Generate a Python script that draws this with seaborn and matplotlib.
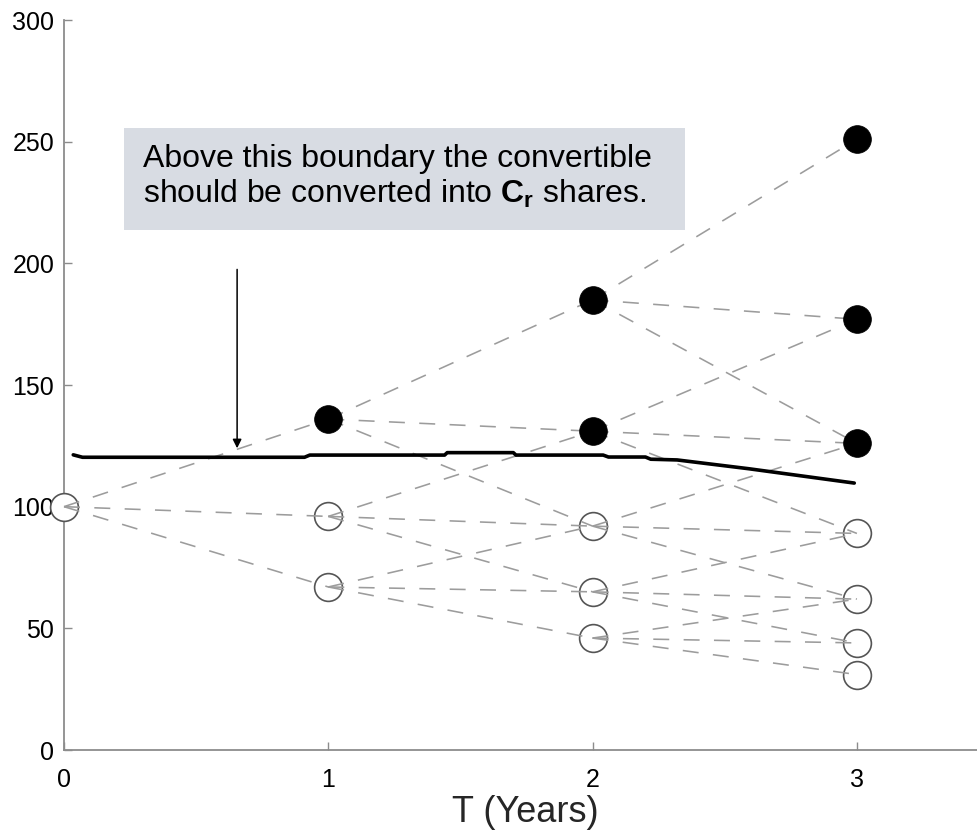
import matplotlib
matplotlib.use("Agg")
import matplotlib.pyplot as plt
import seaborn as sns
import pandas as pd
from matplotlib.patches import Rectangle

# ---- data ----
times = [0, 1, 2, 3]
nodes_t0 = [100]
nodes_t1 = [136, 96, 67]
nodes_t2 = [185, 131, 92, 65, 46]
nodes_t3 = [251, 177, 126, 89, 62, 44, 31]
# nodes above the conversion boundary (filled)
convert_t0 = [False]
convert_t1 = [True, False, False]
convert_t2 = [True, True, False, False, False]
convert_t3 = [True, True, True, False, False, False, False]

boundary_t = [0.035, 0.07, 0.91, 0.93, 1.44, 1.45, 1.70, 1.71, 2.04, 2.06, 2.20, 2.22, 2.32, 2.59, 2.99]
boundary_v = [121.3, 120.3, 120.3, 121.2, 121.2, 122.2, 122.2, 121.2, 121.2, 120.4, 120.4, 119.5, 119.2, 115.6, 109.7]

xticks = [0, 1, 2, 3]
yticks = [0, 50, 100, 150, 200, 250, 300]
xlabel = "T (Years)"
note_line1 = "Above this boundary the convertible"
note_line2 = "should be converted into $\\mathbf{C_r}$ shares."

levels = [nodes_t0, nodes_t1, nodes_t2, nodes_t3]
flags = [convert_t0, convert_t1, convert_t2, convert_t3]

sns.set_style("ticks")
plt.rcParams['font.family'] = ['Liberation Sans', 'DejaVu Sans']
plt.rcParams['mathtext.fontset'] = 'custom'
plt.rcParams['mathtext.rm'] = 'Liberation Sans'
plt.rcParams['mathtext.bf'] = 'Liberation Sans:bold'

fig = plt.figure(figsize=(9.77, 8.3), dpi=100)
ax = fig.add_axes([64/977, 80/830, 1 - 64/977, 730/830])

# node table
rows = []
for t, vals, fl in zip(times, levels, flags):
    for v, f in zip(vals, fl):
        rows.append({"t": t, "v": v, "conv": f})
df = pd.DataFrame(rows)

# hollow nodes
sns.scatterplot(data=df[~df.conv], x="t", y="v", s=400, facecolor="white",
                edgecolor="#555555", linewidth=1.2, ax=ax, zorder=3, clip_on=False)

# tree edges (recombining trinomial: node i -> i, i+1, i+2)
for k in range(len(levels) - 1):
    for i, v in enumerate(levels[k]):
        for j in range(3):
            ax.plot([times[k], times[k + 1]], [v, levels[k + 1][i + j]],
                    color="#9c9c9c", lw=1.15, dashes=(10, 9), zorder=4, clip_on=False)

# filled nodes
sns.scatterplot(data=df[df.conv], x="t", y="v", s=400, color="black",
                edgecolor="black", linewidth=0.5, ax=ax, zorder=5, clip_on=False)

# boundary
bdf = pd.DataFrame({"t": boundary_t, "v": boundary_v})
sns.lineplot(data=bdf, x="t", y="v", color="black", lw=2.6, ax=ax, zorder=6,
             estimator=None, sort=False)

# arrow
ax.annotate("", xy=(0.655, 124.0), xytext=(0.655, 197.5),
            arrowprops=dict(arrowstyle="-|>", color="black", lw=1.1,
                            mutation_scale=13, shrinkA=0, shrinkB=0), zorder=7)

ax.set_xlim(0, (977 - 64) / 264.3)
ax.set_ylim(0, 300)
ax.set_xticks(xticks)
ax.set_yticks(yticks)
ax.set_xlabel(xlabel, fontsize=26)
ax.xaxis.set_label_coords((525 - 64) / 913, (750 - 795) / 730)
ax.set_ylabel("")
for s in ["top", "right"]:
    ax.spines[s].set_visible(False)
for s in ["left", "bottom"]:
    ax.spines[s].set_color("#8c8c8c")
    ax.spines[s].set_linewidth(1.3)
ax.tick_params(axis="both", direction="in", length=6, width=1.0, color="#8c8c8c",
               labelsize=18, labelcolor="black")
ax.tick_params(axis="y", pad=7)
ax.tick_params(axis="x", pad=13)

# note box
fig.patches.append(Rectangle((124/977, (830-230)/830), 561/977, 102/830,
                             transform=fig.transFigure, facecolor="#d8dce3",
                             edgecolor="none", zorder=0))
fig.text(143/977, (830-167)/830, note_line1, fontsize=23, ha="left", va="baseline",
         color="black")
fig.text(143/977, (830-203)/830, note_line2, fontsize=23, ha="left", va="baseline",
         color="black")

fig.savefig("out.png", dpi=100)
